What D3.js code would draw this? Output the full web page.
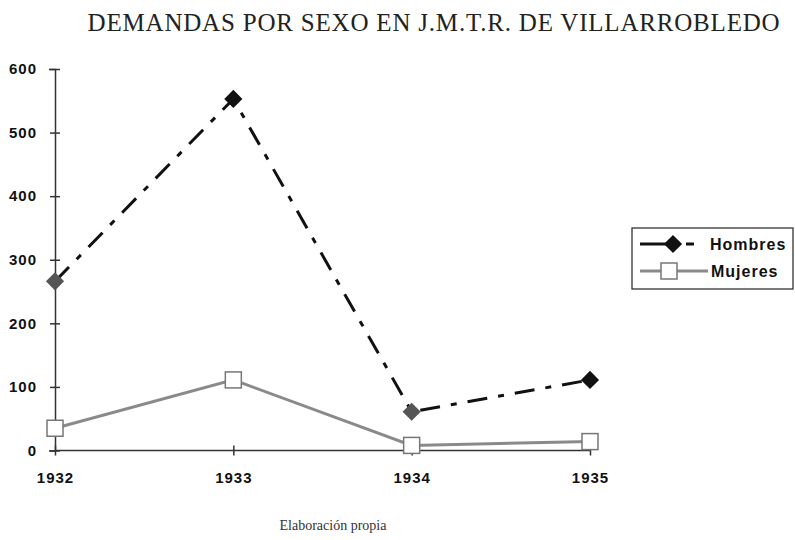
<!DOCTYPE html>
<html>
<head>
<meta charset="utf-8">
<script src="https://d3js.org/d3.v7.min.js"></script>
<style>
  body { margin: 0; background: #fff; }
  .tick text { font-family: "Liberation Sans", Arial, sans-serif; font-weight: bold; font-size: 15px; letter-spacing: 1px; fill: #111; }
</style>
</head>
<body>
<div class="chart"></div>
<script>
let years = [1932, 1933, 1934, 1935];
let hombres = [266, 553, 61, 111];
let mujeres = [35, 111, 8, 14];
let yTicks = [0, 100, 200, 300, 400, 500, 600];

let width = 795, height = 540;

let svg = d3.select(".chart").append("svg")
    .attr("width", width)
    .attr("height", height);

let x = d3.scalePoint().domain(years).range([55, 590]);
let y = d3.scaleLinear().domain([0, 600]).range([450.5, 69]);

// title
svg.append("text")
    .attr("x", 434).attr("y", 31)
    .attr("text-anchor", "middle")
    .style("font-family", "'Liberation Serif', 'Times New Roman', serif")
    .style("font-size", "25px")
    .style("letter-spacing", "0.8px")
    .style("fill", "#222")
    .text("DEMANDAS POR SEXO EN J.M.T.R. DE VILLARROBLEDO");

// axes with ticks crossing the line
let yAxis = d3.axisLeft(y).tickValues(yTicks).tickSize(6).tickPadding(12);
let gy = svg.append("g").attr("transform", "translate(55,0)").call(yAxis);
gy.selectAll(".tick line").attr("x2", 5).attr("x1", -5);

let xAxis = d3.axisBottom(x).tickFormat(d3.format("d")).tickSize(6).tickPadding(16);
let gx = svg.append("g").attr("transform", "translate(0," + y(0) + ")").call(xAxis);
gx.selectAll(".tick line").attr("y1", -5).attr("y2", 5);
gx.select(".domain").attr("d", "M55,0H590");

svg.selectAll(".domain").style("stroke", "#333").style("stroke-width", 1.5);
svg.selectAll(".tick line").style("stroke", "#333").style("stroke-width", 1.5);

let line = d3.line()
    .x((d, i) => x(years[i]))
    .y(d => y(d));

// Mujeres
svg.append("path")
    .datum(mujeres)
    .attr("d", line)
    .style("fill", "none")
    .style("stroke", "#8a8a8a")
    .style("stroke-width", 3);

svg.selectAll(".sq")
    .data(mujeres)
    .enter().append("rect")
    .attr("class", "sq")
    .attr("x", (d, i) => x(years[i]) - 8)
    .attr("y", d => y(d) - 8)
    .attr("width", 16).attr("height", 16)
    .style("fill", "#fff")
    .style("stroke", "#777")
    .style("stroke-width", 1.5);

// Hombres
svg.append("path")
    .datum(hombres)
    .attr("d", line)
    .style("fill", "none")
    .style("stroke", "#111")
    .style("stroke-width", 3)
    .style("stroke-dasharray", "20,11,6,11");

let diamond = d3.symbol().type(d3.symbolDiamond2).size(210);
svg.selectAll(".dm")
    .data(hombres)
    .enter().append("path")
    .attr("class", "dm")
    .attr("d", diamond)
    .attr("transform", (d, i) => "translate(" + x(years[i]) + "," + y(d) + ")")
    .style("fill", (d, i) => (i == 0 || i == 2) ? "#555" : "#111");

// legend
let lg = svg.append("g").attr("transform", "translate(632,228)");
lg.append("rect")
    .attr("width", 161).attr("height", 61)
    .style("fill", "#fff")
    .style("stroke", "#222")
    .style("stroke-width", 1.2);
lg.append("line").attr("x1", 8).attr("x2", 40).attr("y1", 16).attr("y2", 16)
    .style("stroke", "#111").style("stroke-width", 3);
lg.append("line").attr("x1", 54).attr("x2", 62).attr("y1", 16).attr("y2", 16)
    .style("stroke", "#111").style("stroke-width", 3);
lg.append("path").attr("d", diamond)
    .attr("transform", "translate(41,16)")
    .style("fill", "#111");
lg.append("line").attr("x1", 8).attr("x2", 76).attr("y1", 43).attr("y2", 43)
    .style("stroke", "#8a8a8a").style("stroke-width", 3);
lg.append("rect").attr("x", 29).attr("y", 35).attr("width", 16).attr("height", 16)
    .style("fill", "#fff").style("stroke", "#777").style("stroke-width", 1.5);
let legendText = [["Hombres", 78, 22], ["Mujeres", 79, 49]];
lg.selectAll(".lt")
    .data(legendText)
    .enter().append("text")
    .attr("x", d => d[1]).attr("y", d => d[2])
    .style("font-family", "'Liberation Sans', Arial, sans-serif")
    .style("font-weight", "bold")
    .style("font-size", "16px")
    .style("letter-spacing", "1px")
    .style("fill", "#111")
    .text(d => d[0]);

// caption
svg.append("text")
    .attr("x", 333).attr("y", 530)
    .attr("text-anchor", "middle")
    .style("font-family", "'Liberation Serif', 'Times New Roman', serif")
    .style("font-size", "14px")
    .style("fill", "#333")
    .text("Elaboración propia");
</script>
</body>
</html>
